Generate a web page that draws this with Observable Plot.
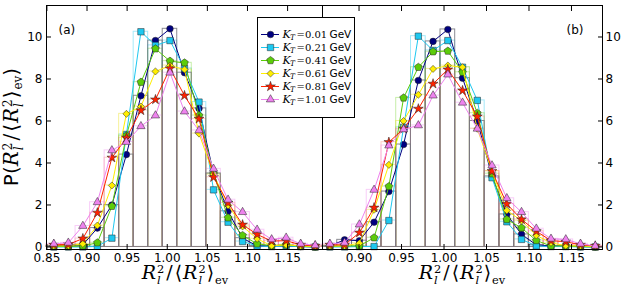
<!DOCTYPE html>
<html><head><meta charset="utf-8">
<script src="https://cdn.jsdelivr.net/npm/d3@7"></script>
<script src="https://cdn.jsdelivr.net/npm/@observablehq/plot@0.6"></script>
<style>
body{margin:0;background:#fff;}
#wrap{position:relative;width:623px;height:291px;overflow:hidden;font-family:"DejaVu Sans";}
#wrap > svg, #wrap > figure{position:absolute;margin:0;}
.lab{position:absolute;white-space:nowrap;color:#000;line-height:1;}
.m{font-family:"DejaVu Serif";font-style:italic;}
.st{display:inline-block;font-size:0.6em;line-height:0.95;vertical-align:-0.45em;margin-left:1px;font-family:"DejaVu Serif";text-align:left;}
.st > span{display:block;}
.st i{font-style:italic;}
.ev{font-family:"DejaVu Serif";font-size:0.6em;vertical-align:-0.4em;}
.br{font-family:"DejaVu Sans";}
.sl{margin:0 1px 0 2px;}
.ang{margin:0 1px;}
</style></head><body><div id="wrap"></div>
<script>
// ---- data ----
const ktLabels = ["0.01", "0.21", "0.41", "0.61", "0.81", "1.01"];
const seriesColors = ["#000080", "#1ec8f0", "#5ccc0a", "#ffee00", "#ff2200", "#ee82ee"];

// panel (a) bin centres
const binsA = [0.8586, 0.8767, 0.8948, 0.9129, 0.9310, 0.9491, 0.9672, 0.9853, 1.0034, 1.0215,
               1.0396, 1.0577, 1.0758, 1.0939, 1.1120, 1.1301, 1.1482, 1.1663, 1.1844];
const a001 = [0.05, 0.08, 0.10, 0.90, 2.00, 4.40, 7.20, 9.83, 10.39, 8.30, 6.60, 3.50, 1.70, 0.42, 0.05, 0.05, 0.05, 0.02, 0.00];
const a021 = [0.00, 0.00, 0.00, 0.03, 0.42, 5.36, 10.25, 9.60, 9.83, 8.50, 6.90, 2.72, 1.18, 0.26, 0.05, 0.02, 0.05, 0.02, 0.00];
const a041 = [0.02, 0.02, 0.05, 0.20, 1.94, 5.30, 7.85, 9.44, 8.85, 8.77, 6.26, 3.49, 1.39, 0.55, 0.15, 0.06, 0.10, 0.03, 0.00];
const a061 = [0.05, 0.06, 0.15, 1.02, 2.93, 6.34, 6.69, 8.36, 8.64, 8.45, 5.40, 3.45, 1.98, 0.98, 0.39, 0.06, 0.10, 0.05, 0.02];
const a081 = [0.10, 0.12, 0.40, 1.63, 4.25, 5.20, 6.50, 7.02, 8.50, 7.21, 6.10, 3.32, 2.10, 1.06, 0.60, 0.28, 0.30, 0.10, 0.05];
const a101 = [0.15, 0.20, 1.00, 2.13, 4.60, 5.00, 5.75, 6.26, 8.30, 6.45, 5.55, 3.72, 2.25, 1.66, 0.82, 0.36, 0.44, 0.15, 0.08];

// panel (b) bin centres
const binsB = [0.8657, 0.8830, 0.9004, 0.9177, 0.9351, 0.9524, 0.9698, 0.9871, 1.0045, 1.0218,
               1.0392, 1.0565, 1.0739, 1.0912, 1.1086, 1.1259, 1.1433, 1.1606, 1.1780];
const b001 = [0.05, 0.34, 0.30, 1.18, 2.64, 4.88, 7.93, 9.79, 10.36, 8.04, 6.00, 3.36, 1.55, 0.60, 0.10, 0.05, 0.03, 0.02, 0.00];
const b021 = [0.00, 0.00, 0.02, 0.02, 1.26, 5.70, 10.04, 9.36, 9.83, 8.56, 6.98, 3.30, 1.20, 0.36, 0.05, 0.02, 0.02, 0.00, 0.00];
const b041 = [0.02, 0.05, 0.05, 0.44, 2.88, 7.10, 8.56, 9.30, 9.33, 8.32, 6.37, 3.49, 1.31, 0.91, 0.31, 0.05, 0.05, 0.02, 0.00];
const b061 = [0.05, 0.05, 0.18, 1.77, 3.91, 6.00, 7.25, 8.48, 8.64, 8.56, 5.63, 3.61, 1.74, 1.25, 0.55, 0.20, 0.06, 0.05, 0.02];
const b081 = [0.10, 0.10, 0.68, 1.87, 4.99, 5.63, 6.58, 7.77, 8.45, 7.45, 6.21, 3.61, 2.05, 1.31, 0.75, 0.30, 0.25, 0.10, 0.05];
const b101 = [0.15, 0.20, 1.07, 2.72, 4.83, 5.60, 5.79, 7.21, 8.21, 6.87, 5.63, 3.88, 2.32, 1.66, 0.87, 0.39, 0.36, 0.15, 0.05];

const xTicksA = [0.85, 0.90, 0.95, 1.00, 1.05, 1.10, 1.15];
const xTicksB = [0.90, 0.95, 1.00, 1.05, 1.10, 1.15];
const yTicks = [0, 2, 4, 6, 8, 10];

// ---- styling ----
const pentagon = {draw(context, size) {
  const r = Math.sqrt(size / (2.5 * Math.sin(2 * Math.PI / 5)));
  for (let i = 0; i < 5; i++) {
    const a = -Math.PI / 2 + i * 2 * Math.PI / 5;
    const x = r * Math.cos(a), y = r * Math.sin(a);
    if (i) context.lineTo(x, y); else context.moveTo(x, y);
  }
  context.closePath();
}};
const symbols = ["circle", "square", pentagon, "diamond2", "star", "triangle"];
const radii = [3.3, 3.6, 3.5, 3.2, 3.1, 3.1];
const histColors = ["#77777f", "#1ec8f0", "#5ccc0a", "#e8dc00", "#ff4020", "#ee82ee"];
const histOpacity = [0.85, 0.4, 0.35, 0.4, 0.25, 0.4];
const histOrder = [1, 2, 3, 4, 5, 0];

const fmtX = d3.format(".2f");
const fmtY = d3.format("d");

function panel(bins, values, xDomain, xTicks, side, tag, opts) {
  const w = bins[1] - bins[0];
  const rows = values.map((vals, si) => vals.map((v, i) => ({si, x: bins[i], x1: bins[i] - w / 2, x2: bins[i] + w / 2, y: v})));
  const marks = [];
  histOrder.forEach(si => marks.push(Plot.rect(rows[si], {x1: "x1", x2: "x2", y1: () => 0, y2: "y", fill: "none",
    stroke: histColors[si], strokeOpacity: histOpacity[si], strokeWidth: 1})));
  rows.forEach((d, si) => {
    marks.push(Plot.line(d, {x: "x", y: "y", stroke: seriesColors[si], strokeWidth: 1}));
    marks.push(Plot.dot(d, {x: "x", y: "y", symbol: symbols[si], r: radii[si], fill: seriesColors[si], stroke: "#222", strokeWidth: 0.5}));
  });
  marks.push(Plot.frame({stroke: "black", strokeWidth: 1}));
  marks.push(Plot.axisX(xTicks, {anchor: "bottom", tickSize: -5, tickFormat: () => "", label: null}));
  marks.push(Plot.axisX(xTicks, {anchor: "top", tickSize: -5, tickFormat: () => "", label: null}));
  marks.push(Plot.axisX(xTicks, {anchor: "bottom", tickSize: 0, tickPadding: 4, tickFormat: fmtX, label: null, fontSize: 12}));
  marks.push(Plot.axisY(yTicks, {anchor: side, tickSize: -5, tickFormat: () => "", label: null}));
  marks.push(Plot.axisY(yTicks, {anchor: side, tickSize: 0, tickPadding: opts.yPad, tickFormat: fmtY, label: null, fontSize: 12}));
  marks.push(Plot.text([tag], {frameAnchor: opts.tagAnchor, dx: opts.tagDx, dy: 25, lineAnchor: "middle", fontSize: 12}));
  return Plot.plot({
    width: opts.width, height: 291,
    marginLeft: opts.ml, marginRight: opts.mr, marginTop: 5, marginBottom: 42,
    x: {domain: xDomain},
    y: {domain: [-0.12, 11.5]},
    style: {background: "transparent", fontFamily: "DejaVu Sans", fontSize: "12px", color: "black"},
    marks
  });
}

const wrap = document.getElementById("wrap");
const left = panel(binsA, [a001, a021, a041, a061, a081, a101], [0.8495, 1.1935], xTicksA, "left", "(a)",
  {width: 323, ml: 46, mr: 1, yPad: 4, tagAnchor: "top-left", tagDx: 12});
left.style.left = "0px"; left.style.top = "0px";
wrap.appendChild(left);
const right = panel(binsB, [b001, b021, b041, b061, b081, b101], [0.857, 1.1865], xTicksB, "right", "(b)",
  {width: 302, ml: 1, mr: 21, yPad: 3, tagAnchor: "top-right", tagDx: -19});
right.style.left = "321px"; right.style.top = "0px";
wrap.appendChild(right);

// legend
const legendRows = ktLabels.map((k, i) => ({k, i}));
const lmarks = [];
legendRows.forEach((r, i) => {
  lmarks.push(Plot.ruleY([r], {y: "k", x1: () => 4, x2: () => 22, stroke: seriesColors[i], strokeWidth: 1}));
  lmarks.push(Plot.dot([r], {y: "k", x: () => 13, symbol: symbols[i], r: radii[i], fill: seriesColors[i], stroke: "#222", strokeWidth: 0.5}));
});
lmarks.push(Plot.text(legendRows, {y: "k", x: () => 25, text: () => "K", textAnchor: "start", fontStyle: "italic", fontFamily: "DejaVu Serif", fontSize: 11}));
lmarks.push(Plot.text(legendRows, {y: "k", x: () => 32.5, dy: 3, text: () => "T", textAnchor: "start", fontStyle: "italic", fontFamily: "DejaVu Serif", fontSize: 7.5}));
lmarks.push(Plot.text(legendRows, {y: "k", x: () => 39, text: d => "=" + d.k, textAnchor: "start", fontFamily: "DejaVu Serif", fontSize: 10}));
lmarks.push(Plot.text(legendRows, {y: "k", x: () => 72, text: () => "GeV", textAnchor: "start", fontFamily: "DejaVu Sans", fontSize: 10.5}));
lmarks.push(Plot.frame({stroke: "black", strokeWidth: 1}));
const legend = Plot.plot({
  width: 98, height: 101, margin: 0, marginRight: 1, marginBottom: 1,
  x: {domain: [0, 97], range: [0, 97], axis: null},
  y: {type: "point", domain: ktLabels, range: [9, 89], axis: null},
  style: {background: "white", fontFamily: "DejaVu Sans"},
  marks: lmarks
});
legend.style.left = "257px"; legend.style.top = "17px";
wrap.appendChild(legend);

// axis titles
function rl() {
  return '<i class="m">R</i><span class="st"><span>2</span><span><i>l</i></span></span>';
}
const xt = '<span class="m" style="font-style:normal">' + rl() + '<span class="sl">/</span><span class="ang">⟨</span>' + rl() + '<span class="ang">⟩</span></span><span class="ev">ev</span>';
[185, 462].forEach(cx => {
  const d = document.createElement("div");
  d.className = "lab";
  d.style.cssText = `left:${cx}px;top:263px;transform:translateX(-50%);font-size:19px;font-family:'DejaVu Serif';`;
  d.innerHTML = xt;
  wrap.appendChild(d);
});
const yl = document.createElement("div");
yl.className = "lab";
yl.style.cssText = "left:13px;top:127px;transform:translate(-50%,-50%) rotate(-90deg);font-size:20px;";
yl.innerHTML = '<span class="br">P(</span>' + xt + '<span class="br">)</span>';
wrap.appendChild(yl);
</script></body></html>
